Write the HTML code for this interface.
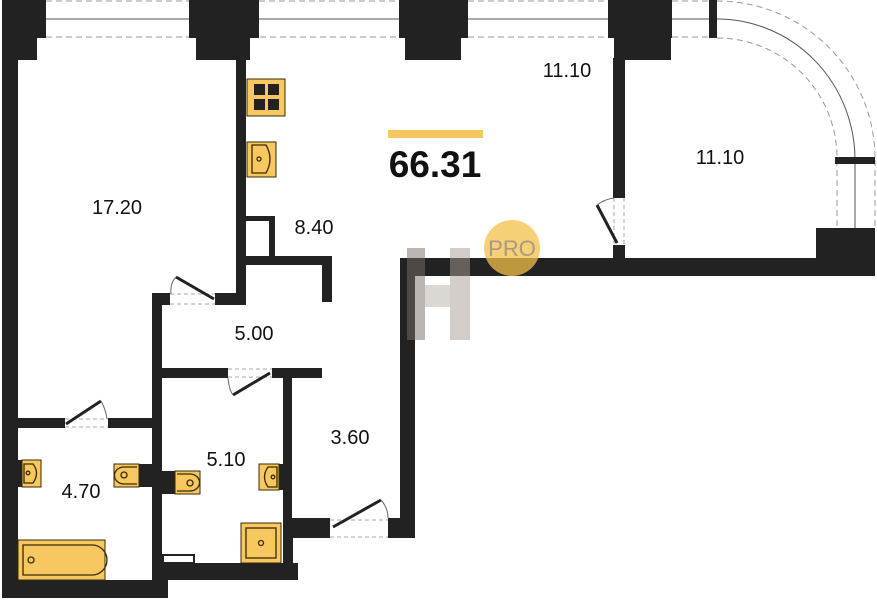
<!DOCTYPE html>
<html><head><style>html,body{margin:0;padding:0;background:#fff;width:877px;height:600px;overflow:hidden}
text{font-family:"Liberation Sans",sans-serif}</style></head><body>
<svg width="877" height="600" viewBox="0 0 877 600" xmlns="http://www.w3.org/2000/svg">
<g stroke="#999" stroke-width="1" fill="none" stroke-dasharray="6,4">
<line x1="46" y1="1" x2="189" y2="1"/><line x1="46" y1="37" x2="196" y2="37"/>
<line x1="259" y1="1" x2="399" y2="1"/><line x1="250" y1="37" x2="405" y2="37"/>
<line x1="468" y1="1" x2="608" y2="1"/><line x1="468" y1="37" x2="614" y2="37"/>
<line x1="672" y1="1" x2="710" y2="1"/><line x1="672" y1="37" x2="710" y2="37"/>
<path d="M717 1 A158 158 0 0 1 875 160"/><path d="M717 38 A120 120 0 0 1 837 160"/>
<line x1="837" y1="160" x2="837" y2="228"/><line x1="875" y1="160" x2="875" y2="228"/>
</g>
<g stroke="#555" stroke-width="1" fill="none">
<line x1="46" y1="19" x2="189" y2="19"/><line x1="259" y1="19" x2="399" y2="19"/>
<line x1="468" y1="19" x2="608" y2="19"/><line x1="672" y1="19" x2="710" y2="19"/>
<path d="M717 19 A138 141 0 0 1 855 160"/><line x1="855" y1="160" x2="855" y2="228"/>
</g>
<g fill="#222">
<rect x="2" y="0" width="44" height="38"/><rect x="2" y="38" width="35" height="22"/>
<rect x="2" y="58" width="16" height="540"/>
<rect x="189" y="0" width="70" height="38"/><rect x="196" y="38" width="54" height="22"/>
<rect x="236" y="58" width="10" height="246"/>
<rect x="399" y="0" width="69" height="38"/><rect x="405" y="38" width="56" height="22"/>
<rect x="608" y="0" width="64" height="38"/><rect x="614" y="38" width="57" height="22"/>
<rect x="613" y="58" width="12" height="140"/><rect x="613" y="245" width="12" height="15"/>
<rect x="709" y="0" width="8" height="38"/>
<rect x="835" y="157" width="40" height="7"/>
<rect x="816" y="228" width="59" height="30"/>
<rect x="400" y="258" width="475" height="18"/>
<rect x="400" y="258" width="15" height="280"/>
<rect x="246" y="216" width="28" height="5"/><rect x="269" y="216" width="6" height="45"/>
<rect x="246" y="256" width="86" height="9"/><rect x="322" y="256" width="10" height="46"/>
<rect x="152" y="293" width="18" height="12"/><rect x="215" y="293" width="31" height="12"/>
<rect x="152" y="293" width="10" height="305"/>
<rect x="162" y="368" width="66" height="10"/><rect x="272" y="368" width="50" height="10"/>
<rect x="283" y="368" width="9" height="212"/><rect x="283" y="520" width="10" height="60"/>
<rect x="290" y="518" width="40" height="20"/><rect x="388" y="518" width="27" height="20"/>
<rect x="18" y="418" width="47" height="10"/><rect x="108" y="418" width="47" height="10"/>
<rect x="2" y="580" width="166" height="18"/>
<rect x="155" y="563" width="143" height="17"/>
<rect x="18" y="460" width="4" height="27"/>
<rect x="139" y="464" width="13" height="23"/>
<rect x="162" y="471" width="13" height="23"/>
<rect x="279" y="464" width="4" height="26"/>
</g>
<rect x="163" y="555" width="31" height="8" fill="#fff" stroke="#222" stroke-width="2"/>
<g stroke="#aaa" stroke-dasharray="4,3" fill="none">
<line x1="170" y1="294" x2="215" y2="294"/><line x1="170" y1="304" x2="215" y2="304"/>
<line x1="228" y1="369" x2="272" y2="369"/><line x1="228" y1="377" x2="272" y2="377"/>
<line x1="65" y1="419" x2="108" y2="419"/><line x1="65" y1="427" x2="108" y2="427"/>
<line x1="330" y1="520" x2="388" y2="520"/><line x1="330" y1="537" x2="388" y2="537"/>
<line x1="614" y1="198" x2="614" y2="245"/><line x1="624" y1="198" x2="624" y2="245"/>
</g>
<g stroke="#222" stroke-width="3">
<line x1="176" y1="277" x2="214" y2="299"/><line x1="233" y1="395" x2="270" y2="373"/>
<line x1="66" y1="424" x2="101" y2="401"/><line x1="333" y1="527" x2="381" y2="500"/>
<line x1="597" y1="205" x2="617" y2="243"/>
</g>
<g stroke="#666" stroke-width="1" fill="none">
<path d="M171 294 Q170 283 176 277"/><path d="M228 378 Q229 390 233 395"/>
<path d="M101 401 Q106 410 107 419"/><path d="M381 500 Q388 508 388 518"/>
<path d="M597 205 Q605 199 614 198"/>
</g>
<g fill="#f7c85f" stroke="#3a2a00" stroke-width="1">
<rect x="247" y="79" width="38" height="37"/>
<rect x="247" y="142" width="29" height="35"/>
<rect x="22" y="460" width="19" height="27"/>
<rect x="114" y="464" width="25" height="23"/>
<rect x="175" y="471" width="25" height="23"/>
<rect x="259" y="464" width="20" height="26"/>
<rect x="241" y="523" width="40" height="40"/>
<rect x="18" y="540" width="87" height="40"/>
</g>
<g fill="#222"><rect x="254" y="84" width="11" height="11"/><rect x="268" y="84" width="11" height="11"/><rect x="254" y="99" width="11" height="11"/><rect x="268" y="99" width="11" height="11"/></g>
<g fill="none" stroke="#3a2a00" stroke-width="1.3">
<path d="M252 145 H266 Q274 159 266 173 H252 Z"/><circle cx="259" cy="159" r="2"/>
<path d="M24 464 H33 Q40 473 33 483 H24 Z"/><circle cx="28" cy="473" r="1.8"/>
<path d="M137 467 H124 A9 8 0 0 0 124 484 H137"/><circle cx="124" cy="475" r="3"/>
<path d="M177 474 H190 A9 8 0 0 1 190 491 H177"/><circle cx="190" cy="483" r="3"/>
<path d="M277 467 H268 Q261 477 268 487 H277 Z"/><circle cx="273" cy="477" r="1.8"/>
<rect x="246" y="528" width="30" height="30"/><circle cx="261" cy="543" r="2.5"/>
<path d="M23 545 H92 A15 15 0 0 1 92 575 H23 Z"/><circle cx="31" cy="560" r="3"/>
</g>
<g opacity="0.5">
<rect x="407" y="248" width="18" height="92" fill="#7a7068"/>
<rect x="450" y="248" width="20" height="92" fill="#a89e96"/>
<rect x="425" y="285" width="25" height="22" fill="#b8b0a8"/>
</g>
<circle cx="512" cy="248" r="28" fill="#f2c04a" opacity="0.75"/>
<text x="512" y="256" font-size="22" fill="#a89a80" text-anchor="middle">PRO</text>
<rect x="388" y="130" width="95" height="8" fill="#f7c85f"/>
<text x="435" y="177" font-size="37" font-weight="bold" text-anchor="middle" fill="#111">66.31</text>
<g font-size="20" fill="#111" text-anchor="middle">
<text x="117" y="214">17.20</text><text x="314" y="234">8.40</text>
<text x="567" y="77">11.10</text><text x="720" y="164">11.10</text>
<text x="254" y="340">5.00</text><text x="350" y="444">3.60</text>
<text x="226" y="466">5.10</text><text x="81" y="498">4.70</text>
</g>
</svg>
</body></html>
